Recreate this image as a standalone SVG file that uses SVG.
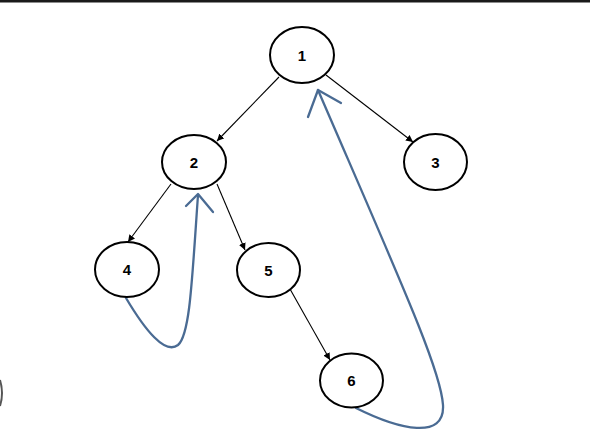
<svg xmlns="http://www.w3.org/2000/svg" width="590" height="431" viewBox="0 0 590 431">
<style>
.node ellipse{fill:#fff;stroke:#000;stroke-width:2}
.node text{font-family:"Liberation Sans",Arial,sans-serif;font-size:15px;font-weight:bold;text-anchor:middle;dominant-baseline:central;fill:#000}
.edge{stroke:#000;stroke-width:1.1;fill:none;marker-end:url(#ah)}
.back{stroke:#4a6b93;stroke-width:2.3;fill:none;stroke-linecap:round;stroke-linejoin:round}
</style>
<defs>
<marker id="ah" viewBox="0 0 10 10" refX="10" refY="5" markerWidth="7" markerHeight="7" markerUnits="userSpaceOnUse" orient="auto">
<path d="M0,0 L10,5 L0,10 z" fill="#000"/>
</marker>
</defs>
<rect x="0" y="0" width="590" height="431" fill="#fff"/>
<rect x="0" y="0" width="590" height="2.5" fill="#1a1a1a"/>
<path d="M0,380 Q4,393 0,406" stroke="#555" stroke-width="2" fill="none"/>
<g id="connectors">
<line class="edge" x1="279" y1="77" x2="217" y2="141"/>
<line class="edge" x1="326" y1="75" x2="413" y2="142"/>
<line class="edge" x1="171" y1="184" x2="128" y2="242"/>
<line class="edge" x1="217" y1="184" x2="245" y2="250"/>
<line class="edge" x1="290" y1="289" x2="330" y2="360"/>
<path class="back" d="M126,298 C145,330 165,355 178,345 C190,335 192,280 198,195"/>
<polyline class="back" points="186,206 198,194 213,212"/>
<path class="back" d="M356,408 C400,430 445,440 443,405 C441,370 400,280 318,90"/>
<polyline class="back" points="308,117 318,90 341,103"/>
</g>
<g id="node1" class="node"><ellipse cx="302" cy="55" rx="32" ry="28"/><text x="302" y="55">1</text></g>
<g id="node2" class="node"><ellipse cx="194" cy="162" rx="32" ry="27"/><text x="194" y="162">2</text></g>
<g id="node3" class="node"><ellipse cx="435.5" cy="162" rx="31.5" ry="28"/><text x="435.5" y="162">3</text></g>
<g id="node4" class="node"><ellipse cx="127" cy="269.5" rx="32" ry="27.5"/><text x="127" y="269.5">4</text></g>
<g id="node5" class="node"><ellipse cx="268.5" cy="270" rx="31.5" ry="27"/><text x="268.5" y="270">5</text></g>
<g id="node6" class="node"><ellipse cx="351.5" cy="380.5" rx="31.5" ry="27"/><text x="351.5" y="380.5">6</text></g>
</svg>
